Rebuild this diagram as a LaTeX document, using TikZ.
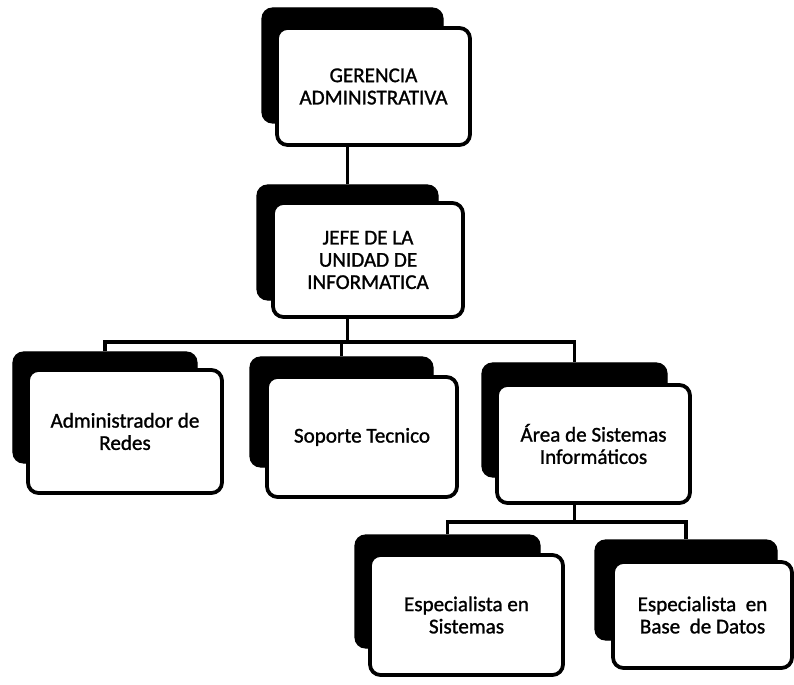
\documentclass[tikz,border=0pt]{standalone}
\usepackage{fontspec}
\setmainfont{Carlito}[FakeBold=1.2]
\usepackage{tikz}

\begin{document}
\begin{tikzpicture}[x=0.03cm, y=-0.03cm,
  shade/.style={rectangle, rounded corners=9pt, fill=black, draw=black, line width=1pt},
  card/.style={rectangle, rounded corners=9pt, fill=white, draw=black, line width=3.2pt, align=center, font=\fontsize{18}{19}\selectfont},
  link/.style={draw=black, line width=2.8pt}]

\useasboundingbox[fill=white] (0,0) rectangle (794,685);

\node[shade, minimum width=5.43cm, minimum height=3.45cm] (gerS) at (352.5,65.5) {};
\node[card, minimum width=5.79cm, minimum height=3.51cm] (ger) at (373.5,86.5) {GERENCIA\\ADMINISTRATIVA};

\node[shade, minimum width=5.43cm, minimum height=3.45cm] (jefS) at (347.5,242.5) {};
\node[card, minimum width=5.70cm, minimum height=3.42cm] (jef) at (368,260) {JEFE DE LA\\UNIDAD DE\\INFORMATICA};

\node[shade, minimum width=5.52cm, minimum height=3.33cm] (admS) at (105,407.5) {};
\node[card, minimum width=5.82cm, minimum height=3.69cm] (adm) at (125,431.5) {Administrador de\\Redes};

\node[shade, minimum width=5.49cm, minimum height=3.30cm] (sopS) at (341.5,412) {};
\node[card, minimum width=5.70cm, minimum height=3.60cm] (sop) at (362,437) {Soporte Tecnico};

\node[shade, minimum width=5.55cm, minimum height=3.42cm] (areaS) at (574.5,420) {};
\node[card, minimum width=5.79cm, minimum height=3.54cm] (area) at (593.5,444) {Área de Sistemas\\Informáticos};

\node[shade, minimum width=5.55cm, minimum height=3.39cm] (espsS) at (447.5,591.5) {};
\node[card, minimum width=5.79cm, minimum height=3.60cm] (esps) at (466.5,615) {Especialista en\\Sistemas};

\node[shade, minimum width=5.46cm, minimum height=3.00cm] (espbS) at (686,590) {};
\node[card, minimum width=5.37cm, minimum height=3.18cm] (espb) at (702.5,615) {Especialista~~en\\Base~~de Datos};

% gerencia -> jefe
\draw[link] (jefS.north) -- (jefS.north |- ger.south);

% jefe -> three areas
\draw[link] (jefS.center |- jef.south) -- ++(0,23) coordinate (busa);
\draw[link] (admS.north) |- (busa) -| (areaS.north);
\draw[link] (sopS.north) -- (sopS.north |- busa);

% area de sistemas -> especialistas
\draw[link] (areaS.center |- area.south) -- ++(0,17) coordinate (busb);
\draw[link] (espsS.north) |- (busb) -| (espbS.north);

\end{tikzpicture}
\end{document}
